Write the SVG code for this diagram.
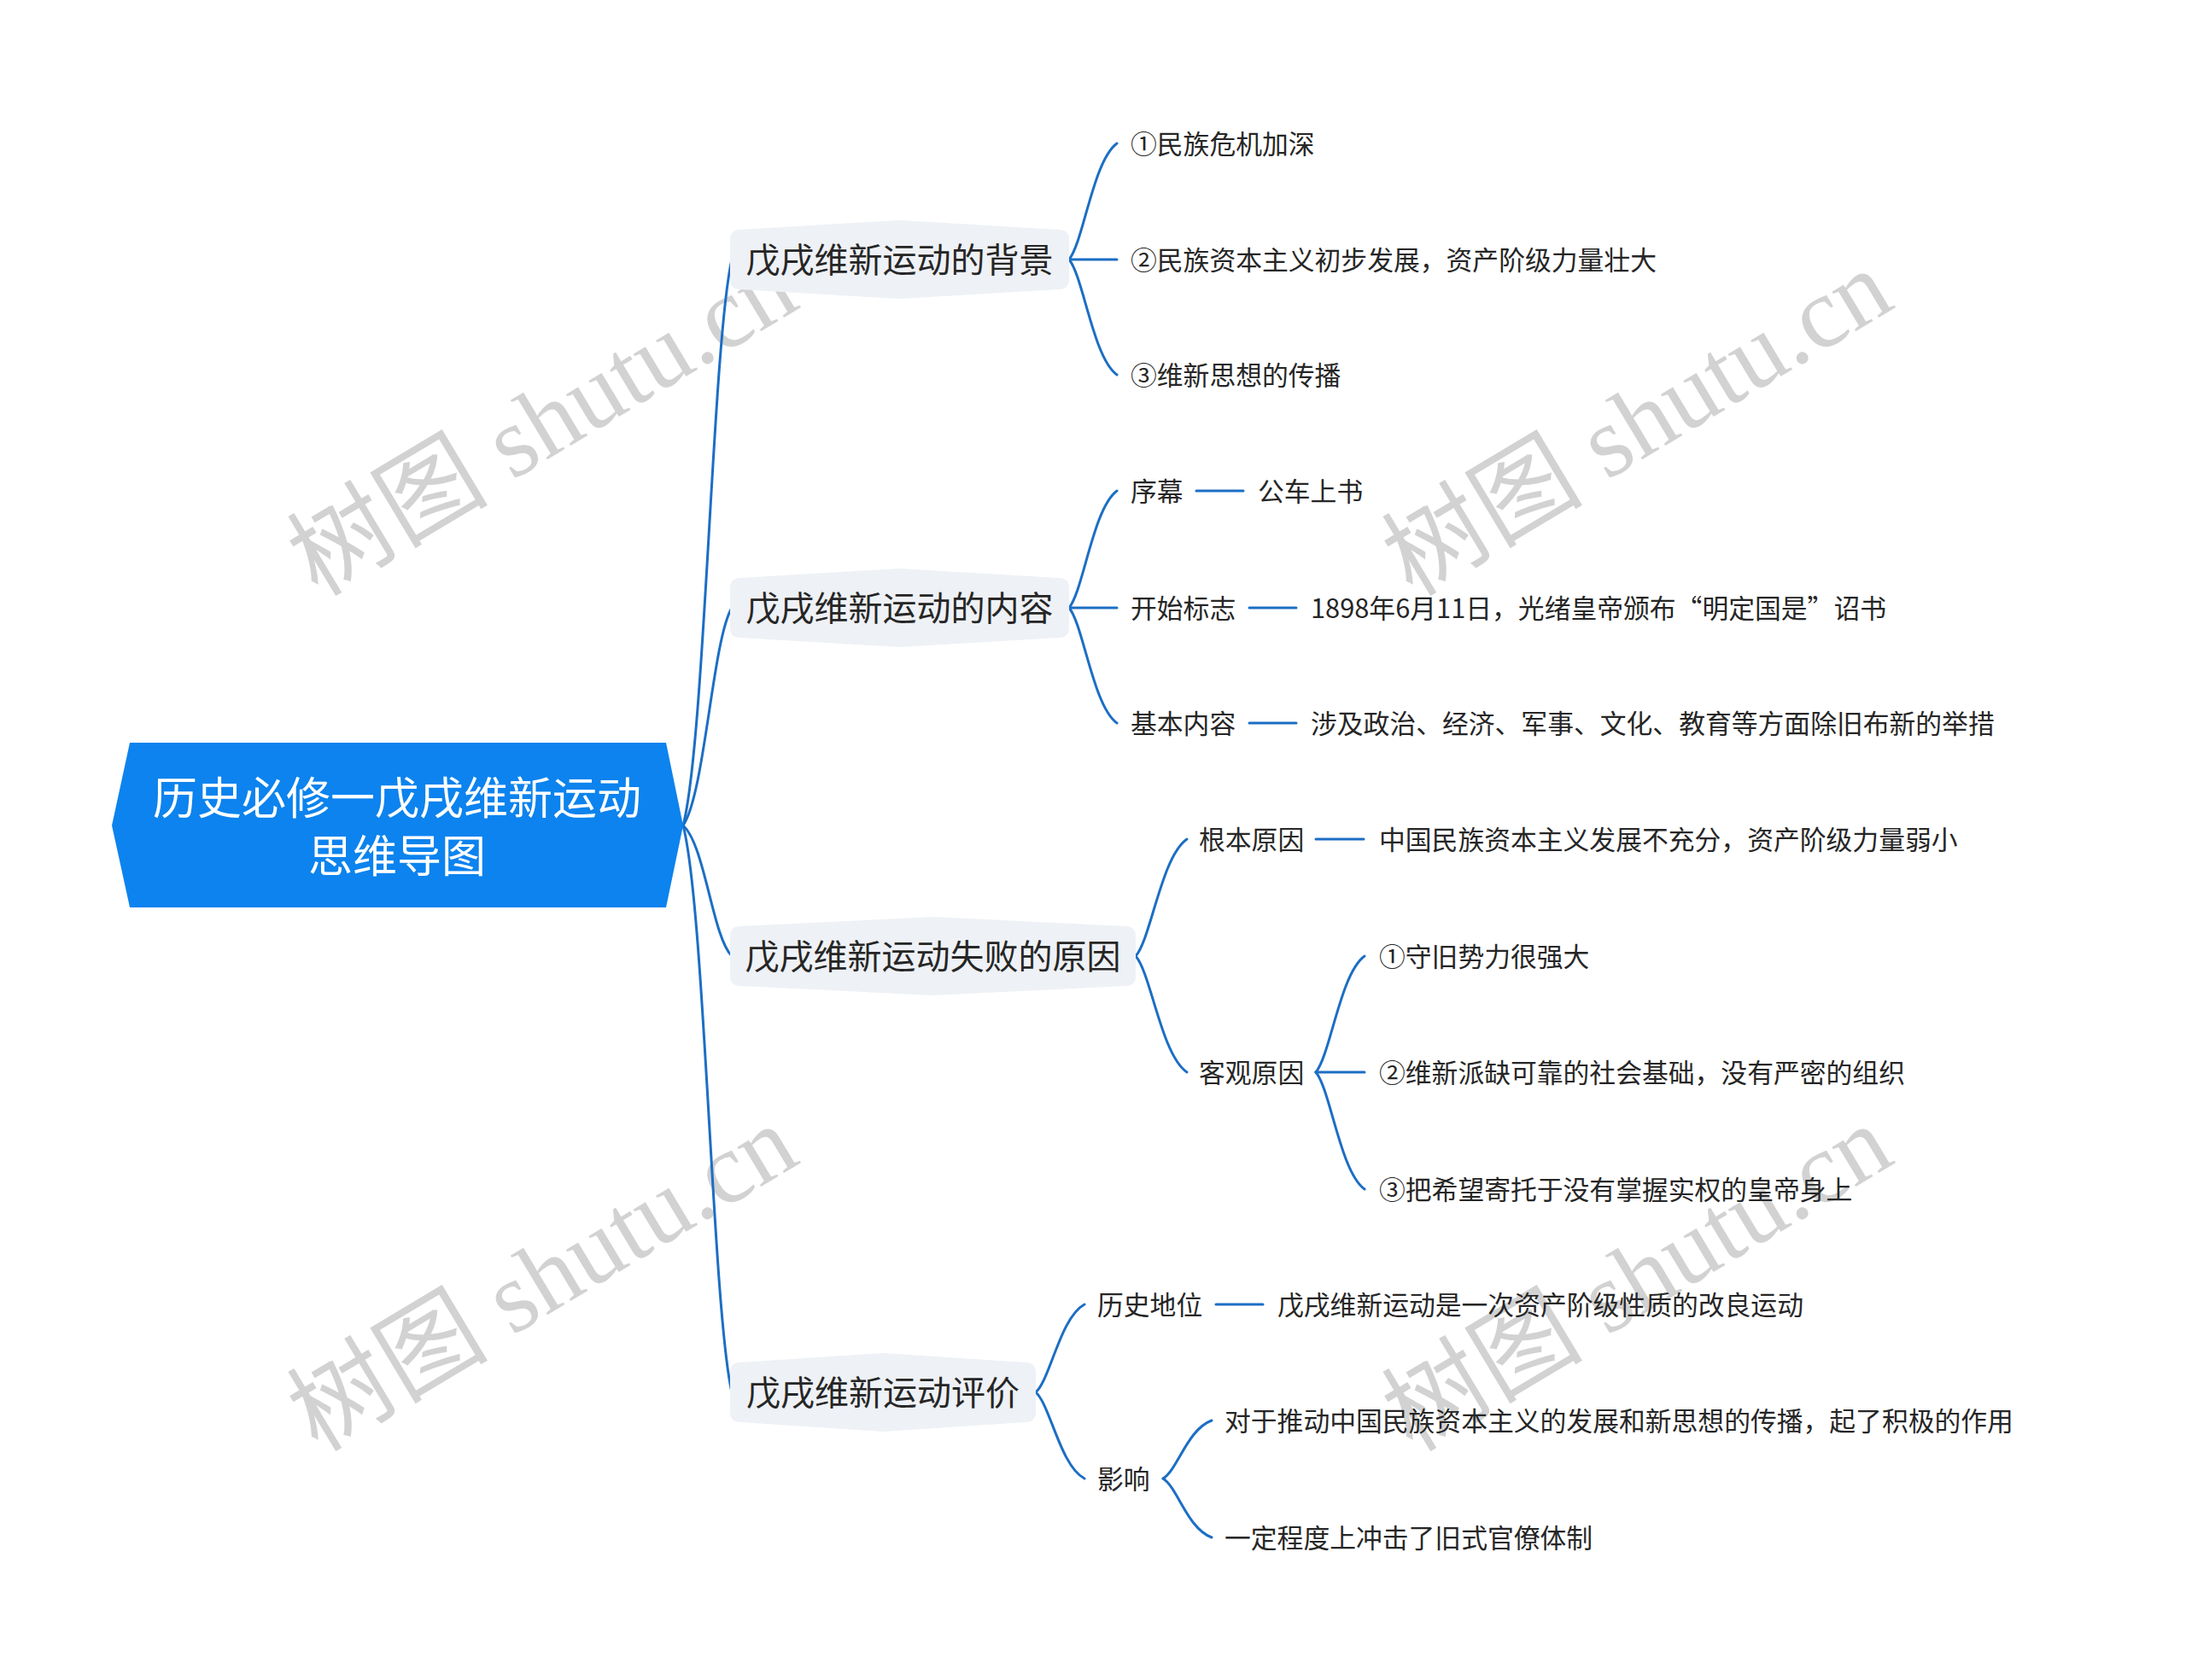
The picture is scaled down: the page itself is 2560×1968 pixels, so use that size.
<svg xmlns="http://www.w3.org/2000/svg" width="2560" height="1968" viewBox="0 0 2560 1968">
<style>
.wm{font-family:"Liberation Serif","Noto Sans CJK SC",serif;font-size:118px;fill:#d2d2d2;}
.root-t{font-family:"Noto Sans CJK SC","Noto Sans",sans-serif;font-size:52px;fill:#ffffff;text-anchor:middle;dominant-baseline:central;}
.b-t{font-family:"Noto Sans CJK SC","Noto Sans",sans-serif;font-size:40px;fill:#262626;text-anchor:middle;dominant-baseline:central;}
.t{font-family:"Noto Sans CJK SC","Noto Sans",sans-serif;font-size:30.8px;fill:#262626;dominant-baseline:central;}
.box{fill:#eef1f5;}
.c{fill:none;stroke:#1c6ec4;stroke-width:3;stroke-linecap:round;}
</style>
<rect width="2560" height="1968" fill="#ffffff"/>
<g id="watermarks">
<text class="wm" transform="translate(372,700) rotate(-31)">树图 shutu.cn</text>
<text class="wm" transform="translate(1654,700) rotate(-31)">树图 shutu.cn</text>
<text class="wm" transform="translate(372,1702) rotate(-31)">树图 shutu.cn</text>
<text class="wm" transform="translate(1654,1702) rotate(-31)">树图 shutu.cn</text>
</g>
<g id="connectors">
<path class="c" d="M800,967 C825.7,867.5 834.2,403.5 857,304"/>
<path class="c" d="M800,967 C825.7,928.8 834.2,750.3 857,712"/>
<path class="c" d="M800,967 C825.7,990 834.2,1097 857,1120"/>
<path class="c" d="M800,967 C825.7,1066.6 834.2,1531.4 857,1631"/>
<path class="c" d="M1252,304 C1268.8,283.6 1280,188.4 1308,168"/>
<path class="c" d="M1252,304 L1308,304"/>
<path class="c" d="M1252,304 C1268.8,324.3 1280,418.8 1308,439"/>
<path class="c" d="M1252,712 C1268.8,691.5 1280,595.6 1308,575"/>
<path class="c" d="M1252,712 L1308,712"/>
<path class="c" d="M1252,712 C1268.8,732.3 1280,826.8 1308,847"/>
<path class="c" d="M1401,575 L1456,575"/>
<path class="c" d="M1463,712 L1518,712"/>
<path class="c" d="M1463,847 L1518,847"/>
<path class="c" d="M1330,1120 C1348,1099.5 1360,1003.6 1390,983"/>
<path class="c" d="M1330,1120 C1348,1140.4 1360,1235.6 1390,1256"/>
<path class="c" d="M1541,983 L1597,983"/>
<path class="c" d="M1541,1256 C1558.1,1235.6 1569.5,1140.4 1598,1120"/>
<path class="c" d="M1541,1256 L1598,1256"/>
<path class="c" d="M1541,1256 C1558.1,1276.6 1569.5,1372.5 1598,1393"/>
<path class="c" d="M1213,1631 C1230.1,1615.6 1241.5,1543.5 1270,1528"/>
<path class="c" d="M1213,1631 C1230.1,1646.2 1241.5,1716.9 1270,1732"/>
<path class="c" d="M1424,1528 L1479,1528"/>
<path class="c" d="M1362,1732 C1379.1,1721.8 1390.5,1674.2 1419,1664"/>
<path class="c" d="M1362,1732 C1379.1,1742.4 1390.5,1790.7 1419,1801"/>
</g>
<g id="root">
<polygon points="131,967 152,870 780,870 800,967 780,1063 152,1063" fill="#0c83ee"/>
<text class="root-t" x="465" y="931">历史必修一戊戌维新运动</text>
<text class="root-t" x="465" y="999">思维导图</text>
</g>
<g id="b1">
<path class="box" d="M855,281 Q855,269 867,269 L1053.5,258 L1240,269 Q1252,269 1252,281 L1252,327 Q1252,339 1240,339 L1053.5,350 L867,339 Q855,339 855,327 Z"/>
<text class="b-t" x="1053.5" y="302">戊戌维新运动的背景</text>
</g>
<g id="b1-1"><text class="t" x="1324" y="166">①民族危机加深</text></g>
<g id="b1-2"><text class="t" x="1324" y="302">②民族资本主义初步发展，资产阶级力量壮大</text></g>
<g id="b1-3"><text class="t" x="1324" y="437">③维新思想的传播</text></g>
<g id="b2">
<path class="box" d="M855,689 Q855,677 867,677 L1053.5,666 L1240,677 Q1252,677 1252,689 L1252,735 Q1252,747 1240,747 L1053.5,758 L867,747 Q855,747 855,735 Z"/>
<text class="b-t" x="1053.5" y="710">戊戌维新运动的内容</text>
</g>
<g id="b2-1"><text class="t" x="1324" y="573">序幕</text></g>
<g id="b2-1-1"><text class="t" x="1473" y="573">公车上书</text></g>
<g id="b2-2"><text class="t" x="1324" y="710">开始标志</text></g>
<g id="b2-2-1"><text class="t" x="1535" y="710">1898年6月11日，光绪皇帝颁布“明定国是”诏书</text></g>
<g id="b2-3"><text class="t" x="1324" y="845">基本内容</text></g>
<g id="b2-3-1"><text class="t" x="1535" y="845">涉及政治、经济、军事、文化、教育等方面除旧布新的举措</text></g>
<g id="b3">
<path class="box" d="M855,1097 Q855,1085 867,1085 L1092.5,1074 L1318,1085 Q1330,1085 1330,1097 L1330,1143 Q1330,1155 1318,1155 L1092.5,1166 L867,1155 Q855,1155 855,1143 Z"/>
<text class="b-t" x="1092.5" y="1118">戊戌维新运动失败的原因</text>
</g>
<g id="b3-1"><text class="t" x="1404" y="981">根本原因</text></g>
<g id="b3-1-1"><text class="t" x="1615" y="981">中国民族资本主义发展不充分，资产阶级力量弱小</text></g>
<g id="b3-2"><text class="t" x="1404" y="1254">客观原因</text></g>
<g id="b3-2-1"><text class="t" x="1615" y="1118">①守旧势力很强大</text></g>
<g id="b3-2-2"><text class="t" x="1615" y="1254">②维新派缺可靠的社会基础，没有严密的组织</text></g>
<g id="b3-2-3"><text class="t" x="1615" y="1391">③把希望寄托于没有掌握实权的皇帝身上</text></g>
<g id="b4">
<path class="box" d="M855,1608 Q855,1596 867,1596 L1034,1585 L1201,1596 Q1213,1596 1213,1608 L1213,1654 Q1213,1666 1201,1666 L1034,1677 L867,1666 Q855,1666 855,1654 Z"/>
<text class="b-t" x="1034" y="1629">戊戌维新运动评价</text>
</g>
<g id="b4-1"><text class="t" x="1285" y="1526">历史地位</text></g>
<g id="b4-1-1"><text class="t" x="1496" y="1526">戊戌维新运动是一次资产阶级性质的改良运动</text></g>
<g id="b4-2"><text class="t" x="1285" y="1730">影响</text></g>
<g id="b4-2-1"><text class="t" x="1434" y="1662">对于推动中国民族资本主义的发展和新思想的传播，起了积极的作用</text></g>
<g id="b4-2-2"><text class="t" x="1434" y="1799">一定程度上冲击了旧式官僚体制</text></g>
</svg>
